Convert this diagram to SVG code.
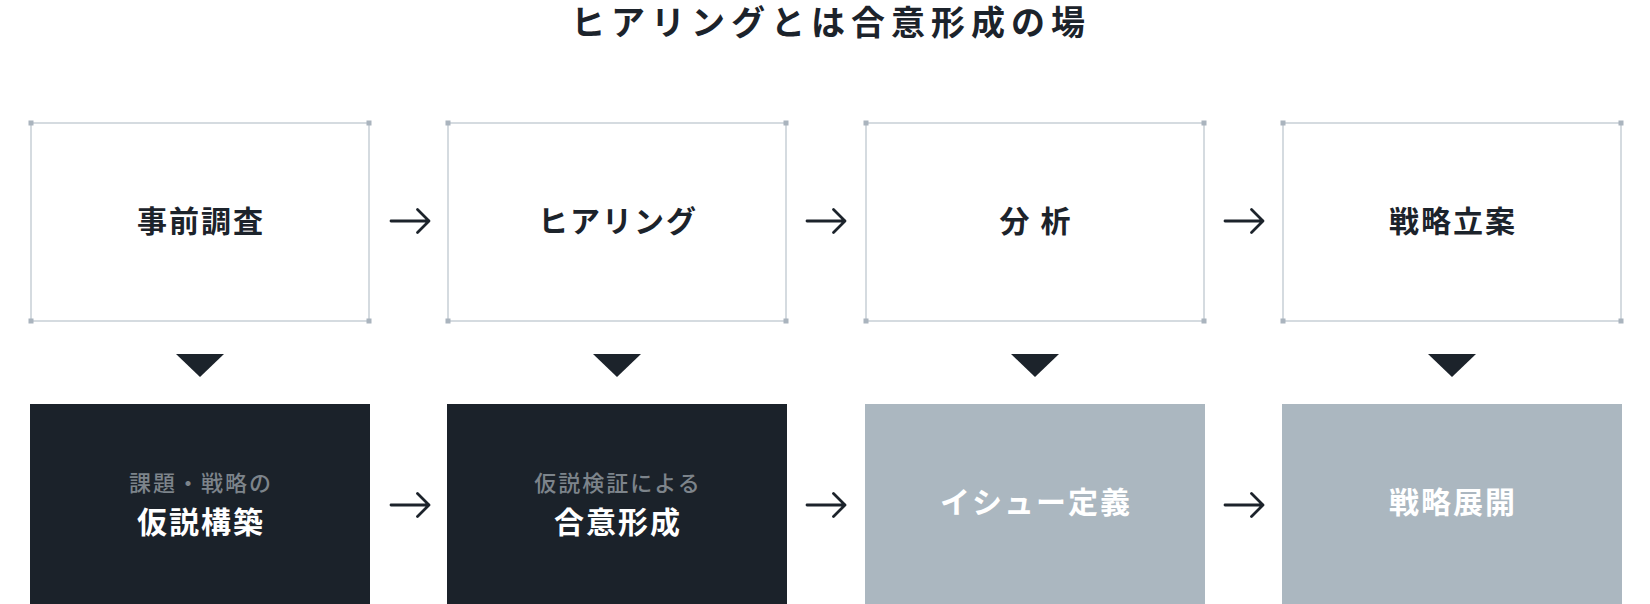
<svg xmlns="http://www.w3.org/2000/svg" width="1650" height="604" viewBox="0 0 1650 604">
<style>
text{font-family:"Noto Sans CJK JP","Noto Sans",sans-serif;text-anchor:middle}
.title{font-size:34px;font-weight:700;fill:#1c232b;letter-spacing:6px}
.frame{fill:#ffffff;stroke:#d5dbe0;stroke-width:2}
.corner{fill:#aab4be}
.lbl{font-size:30px;font-weight:700;fill:#1c232b;letter-spacing:2px}
.dark{fill:#1b222a}
.gray{fill:#abb7c0}
.sub{font-size:22px;font-weight:500;fill:#7d848b;letter-spacing:2px}
.wlbl{font-size:30px;font-weight:700;fill:#ffffff;letter-spacing:2px}
.arr{fill:none;stroke:#1c232b;stroke-width:2.8;stroke-linecap:round;stroke-linejoin:round}
.tri{fill:#1c232b}
</style>
<text class="title" x="831" y="35">ヒアリングとは合意形成の場</text>

<g id="step1">
<rect class="frame" x="31" y="123" width="338" height="198"/>
<rect class="corner" x="28.5" y="120.5" width="5" height="5"/><rect class="corner" x="366.5" y="120.5" width="5" height="5"/>
<rect class="corner" x="28.5" y="318.5" width="5" height="5"/><rect class="corner" x="366.5" y="318.5" width="5" height="5"/>
<text class="lbl" x="201" y="232">事前調査</text>
</g>
<g id="step2">
<rect class="frame" x="448" y="123" width="338" height="198"/>
<rect class="corner" x="445.5" y="120.5" width="5" height="5"/><rect class="corner" x="783.5" y="120.5" width="5" height="5"/>
<rect class="corner" x="445.5" y="318.5" width="5" height="5"/><rect class="corner" x="783.5" y="318.5" width="5" height="5"/>
<text class="lbl" x="618" y="232">ヒアリング</text>
</g>
<g id="step3">
<rect class="frame" x="866" y="123" width="338" height="198"/>
<rect class="corner" x="863.5" y="120.5" width="5" height="5"/><rect class="corner" x="1201.5" y="120.5" width="5" height="5"/>
<rect class="corner" x="863.5" y="318.5" width="5" height="5"/><rect class="corner" x="1201.5" y="318.5" width="5" height="5"/>
<text class="lbl" x="1036" y="232">分 析</text>
</g>
<g id="step4">
<rect class="frame" x="1283" y="123" width="338" height="198"/>
<rect class="corner" x="1280.5" y="120.5" width="5" height="5"/><rect class="corner" x="1618.5" y="120.5" width="5" height="5"/>
<rect class="corner" x="1280.5" y="318.5" width="5" height="5"/><rect class="corner" x="1618.5" y="318.5" width="5" height="5"/>
<text class="lbl" x="1453" y="232">戦略立案</text>
</g>

<g id="result1">
<rect class="dark" x="30" y="404" width="340" height="200"/>
<text class="sub" x="201" y="491">課題・戦略の</text>
<text class="wlbl" x="201" y="533">仮説構築</text>
</g>
<g id="result2">
<rect class="dark" x="447" y="404" width="340" height="200"/>
<text class="sub" x="618" y="491">仮説検証による</text>
<text class="wlbl" x="618" y="533">合意形成</text>
</g>
<g id="result3">
<rect class="gray" x="865" y="404" width="340" height="200"/>
<text class="wlbl" x="1036" y="513">イシュー定義</text>
</g>
<g id="result4">
<rect class="gray" x="1282" y="404" width="340" height="200"/>
<text class="wlbl" x="1453" y="513">戦略展開</text>
</g>

<g id="connectors">
<path class="arr" d="M391 221H429M417.5 209.5L429 221L417.5 232.5"/>
<path class="arr" d="M807 221H845M833.5 209.5L845 221L833.5 232.5"/>
<path class="arr" d="M1225 221H1263M1251.5 209.5L1263 221L1251.5 232.5"/>
<path class="arr" d="M391 505H429M417.5 493.5L429 505L417.5 516.5"/>
<path class="arr" d="M807 505H845M833.5 493.5L845 505L833.5 516.5"/>
<path class="arr" d="M1225 505H1263M1251.5 493.5L1263 505L1251.5 516.5"/>
<polygon class="tri" points="176,354 224,354 200,377"/>
<polygon class="tri" points="593,354 641,354 617,377"/>
<polygon class="tri" points="1011,354 1059,354 1035,377"/>
<polygon class="tri" points="1428,354 1476,354 1452,377"/>
</g>
</svg>
